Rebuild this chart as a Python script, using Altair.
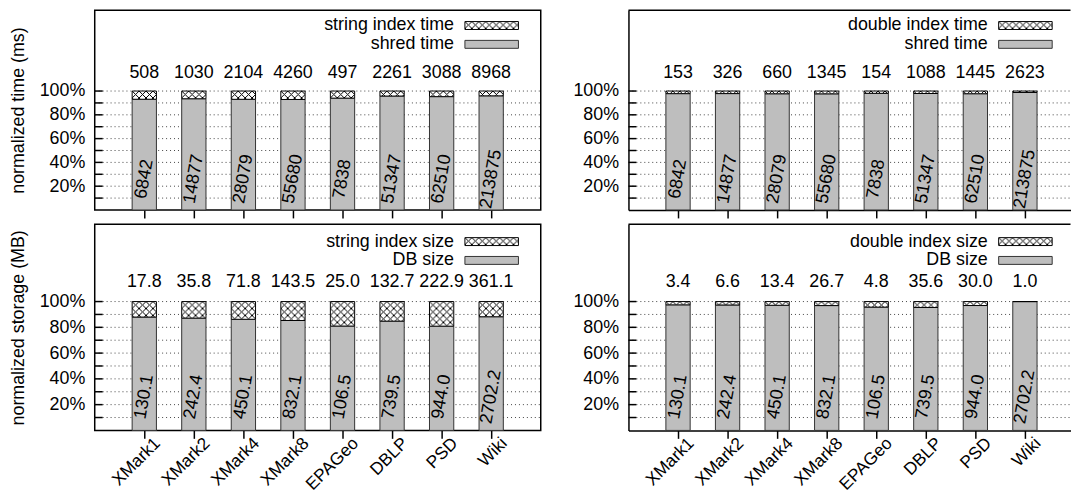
import json
import urllib.parse
import altair as alt
import pandas as pd

# ---------------- data ----------------
datasets = ["XMark1", "XMark2", "XMark4", "XMark8", "EPAGeo", "DBLP", "PSD", "Wiki"]
positions = [0, 1, 2, 3, 4, 5, 6, 7]

shred_time = [6842, 14877, 28079, 55680, 7838, 51347, 62510, 213875]
string_index_time = [508, 1030, 2104, 4260, 497, 2261, 3088, 8968]
double_index_time = [153, 326, 660, 1345, 154, 1088, 1445, 2623]

db_size = [130.1, 242.4, 450.1, 832.1, 106.5, 739.5, 944.0, 2702.2]
string_index_size = [17.8, 35.8, 71.8, 143.5, 25.0, 132.7, 222.9, 361.1]
double_index_size = [3.4, 6.6, 13.4, 26.7, 4.8, 35.6, 30.0, 1.0]

percent_labels = [0.2, 0.4, 0.6, 0.8, 1.0]
grid_levels = [0.1, 0.2, 0.3, 0.4, 0.5, 0.6, 0.7, 0.8, 0.9, 1.0]

# ---------------- style ----------------
FONT = "Liberation Sans"
FS = 18
GRAY = "#bebebe"
HALF_BAR = 0.245

hatch_svg = (
    "<svg xmlns='http://www.w3.org/2000/svg' width='100%' height='100%'>"
    "<defs><pattern id='p' width='7' height='7' patternUnits='userSpaceOnUse'>"
    "<path d='M0,0L7,7M7,0L0,7' stroke='black' stroke-width='1'/></pattern></defs>"
    "<rect width='100%' height='100%' fill='white'/>"
    "<rect width='100%' height='100%' fill='url(#p)'/></svg>"
)
HATCH = "data:image/svg+xml," + urllib.parse.quote(hatch_svg)

label_expr = json.dumps(datasets) + "[datum.value]"


def panel(base, idx, idx_label, base_label, fmt, ymax, height, width, xmax,
          show_x_labels, y_title, right_panel, top_y, leg_dy):
    df = pd.DataFrame({"pos": positions, "dataset": datasets,
                       "base": base, "idx": idx})
    grid_df = pd.DataFrame({"level": grid_levels})

    xsc = alt.Scale(domain=[-1, xmax], nice=False, zero=False)
    ysc = alt.Scale(domain=[0, ymax], nice=False, zero=True)

    xaxis = alt.Axis(
        values=positions, labelExpr=label_expr, labels=show_x_labels,
        labelAngle=315, labelAlign="right", labelBaseline="middle",
        labelOffset=13, labelPadding=2, labelOverlap=False, labelBound=False,
        labelFont=FONT, labelFontSize=17.5, labelColor="black",
        ticks=True, tickSize=8, tickColor="black", tickWidth=1.5,
        grid=False, domain=right_panel, domainColor="black", domainWidth=1.5,
        title=None,
    )
    yaxis_kw = dict(
        values=percent_labels, format=".0%", ticks=False, labelPadding=10,
        labelOverlap=False,
        labelFont=FONT, labelFontSize=FS, labelColor="black",
        grid=False, domain=right_panel, domainColor="black", domainWidth=1.5,
    )
    if y_title:
        yaxis = alt.Axis(title=y_title, titleFont=FONT, titleFontSize=FS,
                         titleFontWeight="normal", titleColor="black",
                         titlePadding=12, **yaxis_kw)
    else:
        yaxis = alt.Axis(title=None, **yaxis_kw)

    def Y(field):
        return alt.Y(field, type="quantitative", scale=ysc, axis=yaxis)

    def X(field):
        return alt.X(field, type="quantitative", scale=xsc, axis=xaxis)

    bars = alt.Chart(df).transform_calculate(
        frac="datum.base / (datum.base + datum.idx)",
        one="1",
        zero="0",
        x0=f"datum.pos - {HALF_BAR}",
        x1=f"datum.pos + {HALF_BAR}",
        top_y=str(top_y),
        in_y="0.26",
    )

    grid = alt.Chart(grid_df).mark_rule(
        color="#444444", strokeWidth=1, strokeDash=[1, 3]
    ).encode(y=Y("level"), x=alt.value(0), x2=alt.value(width))

    inner_ticks = alt.Chart(grid_df).mark_rule(
        color="black", strokeWidth=1.5
    ).encode(y=Y("level"), x=alt.value(0), x2=alt.value(8))

    gray = bars.mark_rect(fill=GRAY, stroke="#333333", strokeWidth=1).encode(
        x=X("x0"), x2="x1", y=Y("zero"), y2="frac")

    white = bars.mark_rect(fill="white").encode(
        x=X("x0"), x2="x1", y=Y("frac"), y2="one")

    hatch = bars.mark_image(aspect=False, align="left", baseline="top").encode(
        x=X("x0"), x2="x1", y=Y("one"), y2="frac", url=alt.value(HATCH))

    outline = bars.mark_rect(fill="transparent", stroke="black",
                             strokeWidth=1).encode(
        x=X("x0"), x2="x1", y=Y("frac"), y2="one")

    totals = bars.mark_text(font=FONT, fontSize=FS, color="black",
                            align="center", baseline="middle").encode(
        x=X("pos"), y=Y("top_y"), text=alt.Text("idx:Q", format=fmt))

    inside = bars.mark_text(font=FONT, fontSize=FS, color="black",
                            align="center", baseline="middle",
                            angle=280).encode(
        x=X("pos"), y=Y("in_y"), text=alt.Text("base:Q", format=fmt))

    one_row = pd.DataFrame({"k": [0]})
    y1 = 17.5 + leg_dy
    y2 = 36.5 + leg_dy
    leg_text1 = alt.Chart(one_row).mark_text(
        text=idx_label, font=FONT, fontSize=FS, color="black",
        align="right", baseline="middle").encode(
        x=alt.value(362.5), y=alt.value(y1))
    leg_text2 = alt.Chart(one_row).mark_text(
        text=base_label, font=FONT, fontSize=FS, color="black",
        align="right", baseline="middle").encode(
        x=alt.value(362.5), y=alt.value(y2))
    leg_hatch = alt.Chart(one_row).mark_image(
        aspect=False, align="left", baseline="top").encode(
        x=alt.value(373.5), x2=alt.value(427.5),
        y=alt.value(y1 - 4), y2=alt.value(y1 + 4), url=alt.value(HATCH))
    leg_hatch_box = alt.Chart(one_row).mark_rect(
        fill="transparent", stroke="black", strokeWidth=1).encode(
        x=alt.value(373.5), x2=alt.value(427.5),
        y=alt.value(y1 - 4), y2=alt.value(y1 + 4))
    leg_gray = alt.Chart(one_row).mark_rect(
        fill=GRAY, stroke="#333333", strokeWidth=1).encode(
        x=alt.value(373.5), x2=alt.value(427.5),
        y=alt.value(y2 - 4), y2=alt.value(y2 + 4))

    layers = [grid, inner_ticks, gray, white, hatch, outline, totals, inside,
              leg_text1, leg_text2, leg_hatch, leg_hatch_box, leg_gray]
    if right_panel:
        top_border = alt.Chart(one_row).mark_rule(
            color="black", strokeWidth=1.5).encode(
            x=alt.value(0), x2=alt.value(width), y=alt.value(0))
        layers.append(top_border)

    ch = alt.layer(*layers).properties(width=width, height=height)
    if right_panel:
        ch = ch.properties(view=alt.ViewBackground(stroke="transparent"))
    return ch


tl = panel(shred_time, string_index_time, "string index time", "shred time",
           "d", 1.68, 201.6, 450, 8, False, "normalized time (ms)", False,
           1.15, -2)
tr = panel(shred_time, double_index_time, "double index time", "shred time",
           "d", 1.68, 201.6, 446, 7.92, False, None, True, 1.15, -2)
bl = panel(db_size, string_index_size, "string index size", "DB size",
           ".1f", 1.6, 208, 450, 8, True, "normalized storage (MB)", False,
           1.155, 0)
br = panel(db_size, double_index_size, "double index size", "DB size",
           ".1f", 1.6, 208, 446, 7.92, True, None, True, 1.155, 0)

chart = alt.concat(
    tl, tr, bl, br, columns=2,
    spacing={"row": 14, "column": 88.5}, bounds="flush",
).properties(
    padding={"left": 0.5, "top": -2, "right": 0, "bottom": 0}
).configure(font=FONT).configure_view(stroke="black", strokeWidth=1.5)

chart.save("out.html", embed_options={"renderer": "svg", "actions": False})
